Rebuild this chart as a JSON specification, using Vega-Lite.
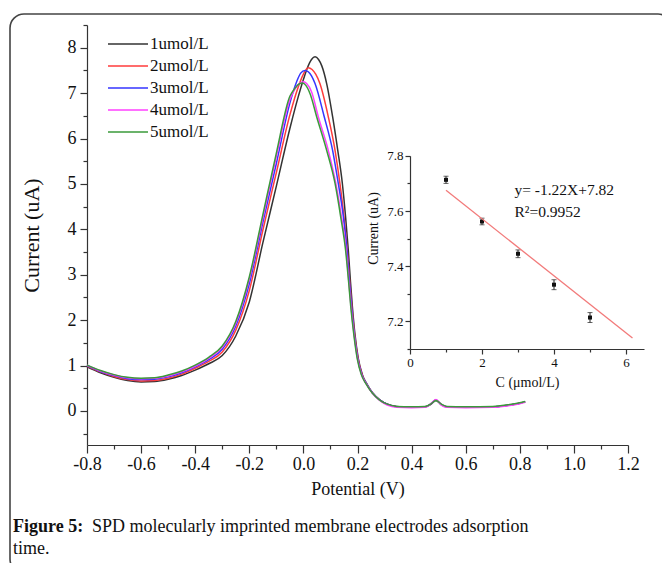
{
  "$schema": "https://vega.github.io/schema/vega-lite/v6.json",
  "width": 662,
  "height": 559,
  "autosize": {"type": "none"},
  "padding": {"left": 10, "top": 14, "right": -10, "bottom": -10},
  "background": "white",
  "config": {
    "view": {"stroke": "#444444", "strokeWidth": 1.6, "cornerRadius": 14},
    "font": "Liberation Serif",
    "axis": {
      "labelFont": "Liberation Serif",
      "titleFont": "Liberation Serif",
      "domainColor": "#333333",
      "tickColor": "#333333",
      "labelColor": "#111111",
      "titleColor": "#111111",
      "titleFontWeight": "normal",
      "grid": false,
      "domainWidth": 1.2,
      "tickWidth": 1.2,
      "labelFlush": false,
      "labelOverlap": false
    },
    "legend": {
      "orient": "none",
      "legendX": 97,
      "legendY": 19,
      "padding": 0,
      "symbolType": "stroke",
      "symbolSize": 1600,
      "symbolStrokeWidth": 1.5,
      "labelFont": "Liberation Serif",
      "labelFontSize": 17,
      "labelColor": "#111111",
      "labelOffset": 1,
      "clipHeight": 22,
      "rowPadding": 0
    }
  },
  "datasets": {
    "curves": [
      {"E": -0.80, "I": 0.97, "conc": "1umol/L"}, {"E": -0.75, "I": 0.84, "conc": "1umol/L"}, {"E": -0.70, "I": 0.74, "conc": "1umol/L"}, {"E": -0.65, "I": 0.67, "conc": "1umol/L"}, {"E": -0.60, "I": 0.64, "conc": "1umol/L"}, {"E": -0.55, "I": 0.65, "conc": "1umol/L"}, {"E": -0.50, "I": 0.70, "conc": "1umol/L"}, {"E": -0.45, "I": 0.78, "conc": "1umol/L"}, {"E": -0.40, "I": 0.90, "conc": "1umol/L"}, {"E": -0.35, "I": 1.04, "conc": "1umol/L"}, {"E": -0.30, "I": 1.22, "conc": "1umol/L"}, {"E": -0.25, "I": 1.65, "conc": "1umol/L"}, {"E": -0.20, "I": 2.40, "conc": "1umol/L"}, {"E": -0.15, "I": 3.70, "conc": "1umol/L"}, {"E": -0.10, "I": 4.95, "conc": "1umol/L"}, {"E": -0.05, "I": 6.22, "conc": "1umol/L"}, {"E": -0.02, "I": 6.90, "conc": "1umol/L"}, {"E": 0.00, "I": 7.30, "conc": "1umol/L"}, {"E": 0.015, "I": 7.56, "conc": "1umol/L"}, {"E": 0.03, "I": 7.74, "conc": "1umol/L"}, {"E": 0.043, "I": 7.80, "conc": "1umol/L"}, {"E": 0.056, "I": 7.74, "conc": "1umol/L"}, {"E": 0.068, "I": 7.60, "conc": "1umol/L"}, {"E": 0.086, "I": 7.21, "conc": "1umol/L"}, {"E": 0.108, "I": 6.48, "conc": "1umol/L"}, {"E": 0.127, "I": 5.74, "conc": "1umol/L"}, {"E": 0.144, "I": 5.01, "conc": "1umol/L"}, {"E": 0.156, "I": 4.27, "conc": "1umol/L"}, {"E": 0.166, "I": 3.54, "conc": "1umol/L"}, {"E": 0.174, "I": 2.85, "conc": "1umol/L"}, {"E": 0.181, "I": 2.30, "conc": "1umol/L"}, {"E": 0.19, "I": 1.72, "conc": "1umol/L"}, {"E": 0.203, "I": 1.15, "conc": "1umol/L"}, {"E": 0.218, "I": 0.80, "conc": "1umol/L"}, {"E": 0.234, "I": 0.60, "conc": "1umol/L"}, {"E": 0.255, "I": 0.40, "conc": "1umol/L"}, {"E": 0.283, "I": 0.24, "conc": "1umol/L"}, {"E": 0.31, "I": 0.15, "conc": "1umol/L"}, {"E": 0.345, "I": 0.10, "conc": "1umol/L"}, {"E": 0.40, "I": 0.08, "conc": "1umol/L"}, {"E": 0.45, "I": 0.09, "conc": "1umol/L"}, {"E": 0.47, "I": 0.14, "conc": "1umol/L"}, {"E": 0.49, "I": 0.23, "conc": "1umol/L"}, {"E": 0.51, "I": 0.14, "conc": "1umol/L"}, {"E": 0.53, "I": 0.09, "conc": "1umol/L"}, {"E": 0.60, "I": 0.08, "conc": "1umol/L"}, {"E": 0.70, "I": 0.09, "conc": "1umol/L"}, {"E": 0.75, "I": 0.12, "conc": "1umol/L"}, {"E": 0.80, "I": 0.17, "conc": "1umol/L"}, {"E": 0.82, "I": 0.20, "conc": "1umol/L"},

      {"E": -0.80, "I": 0.99, "conc": "2umol/L"}, {"E": -0.75, "I": 0.86, "conc": "2umol/L"}, {"E": -0.70, "I": 0.76, "conc": "2umol/L"}, {"E": -0.65, "I": 0.69, "conc": "2umol/L"}, {"E": -0.60, "I": 0.66, "conc": "2umol/L"}, {"E": -0.55, "I": 0.67, "conc": "2umol/L"}, {"E": -0.50, "I": 0.72, "conc": "2umol/L"}, {"E": -0.45, "I": 0.81, "conc": "2umol/L"}, {"E": -0.40, "I": 0.94, "conc": "2umol/L"}, {"E": -0.35, "I": 1.09, "conc": "2umol/L"}, {"E": -0.30, "I": 1.30, "conc": "2umol/L"}, {"E": -0.25, "I": 1.78, "conc": "2umol/L"}, {"E": -0.20, "I": 2.65, "conc": "2umol/L"}, {"E": -0.15, "I": 3.98, "conc": "2umol/L"}, {"E": -0.10, "I": 5.25, "conc": "2umol/L"}, {"E": -0.05, "I": 6.52, "conc": "2umol/L"}, {"E": -0.02, "I": 7.12, "conc": "2umol/L"}, {"E": 0.00, "I": 7.42, "conc": "2umol/L"}, {"E": 0.018, "I": 7.56, "conc": "2umol/L"}, {"E": 0.032, "I": 7.52, "conc": "2umol/L"}, {"E": 0.046, "I": 7.41, "conc": "2umol/L"}, {"E": 0.061, "I": 7.21, "conc": "2umol/L"}, {"E": 0.092, "I": 6.48, "conc": "2umol/L"}, {"E": 0.117, "I": 5.74, "conc": "2umol/L"}, {"E": 0.135, "I": 5.01, "conc": "2umol/L"}, {"E": 0.15, "I": 4.27, "conc": "2umol/L"}, {"E": 0.162, "I": 3.54, "conc": "2umol/L"}, {"E": 0.171, "I": 2.85, "conc": "2umol/L"}, {"E": 0.179, "I": 2.30, "conc": "2umol/L"}, {"E": 0.189, "I": 1.70, "conc": "2umol/L"}, {"E": 0.202, "I": 1.15, "conc": "2umol/L"}, {"E": 0.217, "I": 0.80, "conc": "2umol/L"}, {"E": 0.233, "I": 0.60, "conc": "2umol/L"}, {"E": 0.255, "I": 0.40, "conc": "2umol/L"}, {"E": 0.283, "I": 0.24, "conc": "2umol/L"}, {"E": 0.31, "I": 0.15, "conc": "2umol/L"}, {"E": 0.345, "I": 0.09, "conc": "2umol/L"}, {"E": 0.40, "I": 0.08, "conc": "2umol/L"}, {"E": 0.45, "I": 0.09, "conc": "2umol/L"}, {"E": 0.47, "I": 0.15, "conc": "2umol/L"}, {"E": 0.49, "I": 0.24, "conc": "2umol/L"}, {"E": 0.51, "I": 0.14, "conc": "2umol/L"}, {"E": 0.53, "I": 0.09, "conc": "2umol/L"}, {"E": 0.60, "I": 0.08, "conc": "2umol/L"}, {"E": 0.70, "I": 0.09, "conc": "2umol/L"}, {"E": 0.75, "I": 0.12, "conc": "2umol/L"}, {"E": 0.80, "I": 0.17, "conc": "2umol/L"}, {"E": 0.82, "I": 0.20, "conc": "2umol/L"},

      {"E": -0.80, "I": 1.00, "conc": "3umol/L"}, {"E": -0.75, "I": 0.87, "conc": "3umol/L"}, {"E": -0.70, "I": 0.78, "conc": "3umol/L"}, {"E": -0.65, "I": 0.71, "conc": "3umol/L"}, {"E": -0.60, "I": 0.69, "conc": "3umol/L"}, {"E": -0.55, "I": 0.70, "conc": "3umol/L"}, {"E": -0.50, "I": 0.75, "conc": "3umol/L"}, {"E": -0.45, "I": 0.84, "conc": "3umol/L"}, {"E": -0.40, "I": 0.97, "conc": "3umol/L"}, {"E": -0.35, "I": 1.13, "conc": "3umol/L"}, {"E": -0.30, "I": 1.36, "conc": "3umol/L"}, {"E": -0.25, "I": 1.87, "conc": "3umol/L"}, {"E": -0.20, "I": 2.80, "conc": "3umol/L"}, {"E": -0.15, "I": 4.15, "conc": "3umol/L"}, {"E": -0.10, "I": 5.45, "conc": "3umol/L"}, {"E": -0.05, "I": 6.78, "conc": "3umol/L"}, {"E": -0.025, "I": 7.25, "conc": "3umol/L"}, {"E": -0.01, "I": 7.44, "conc": "3umol/L"}, {"E": 0.006, "I": 7.50, "conc": "3umol/L"}, {"E": 0.018, "I": 7.47, "conc": "3umol/L"}, {"E": 0.03, "I": 7.38, "conc": "3umol/L"}, {"E": 0.043, "I": 7.21, "conc": "3umol/L"}, {"E": 0.077, "I": 6.48, "conc": "3umol/L"}, {"E": 0.108, "I": 5.74, "conc": "3umol/L"}, {"E": 0.129, "I": 5.01, "conc": "3umol/L"}, {"E": 0.148, "I": 4.27, "conc": "3umol/L"}, {"E": 0.161, "I": 3.54, "conc": "3umol/L"}, {"E": 0.170, "I": 2.85, "conc": "3umol/L"}, {"E": 0.178, "I": 2.30, "conc": "3umol/L"}, {"E": 0.188, "I": 1.70, "conc": "3umol/L"}, {"E": 0.201, "I": 1.15, "conc": "3umol/L"}, {"E": 0.216, "I": 0.80, "conc": "3umol/L"}, {"E": 0.233, "I": 0.60, "conc": "3umol/L"}, {"E": 0.255, "I": 0.40, "conc": "3umol/L"}, {"E": 0.283, "I": 0.24, "conc": "3umol/L"}, {"E": 0.31, "I": 0.15, "conc": "3umol/L"}, {"E": 0.345, "I": 0.09, "conc": "3umol/L"}, {"E": 0.40, "I": 0.08, "conc": "3umol/L"}, {"E": 0.45, "I": 0.09, "conc": "3umol/L"}, {"E": 0.47, "I": 0.15, "conc": "3umol/L"}, {"E": 0.49, "I": 0.24, "conc": "3umol/L"}, {"E": 0.51, "I": 0.14, "conc": "3umol/L"}, {"E": 0.53, "I": 0.09, "conc": "3umol/L"}, {"E": 0.60, "I": 0.08, "conc": "3umol/L"}, {"E": 0.70, "I": 0.09, "conc": "3umol/L"}, {"E": 0.75, "I": 0.12, "conc": "3umol/L"}, {"E": 0.80, "I": 0.17, "conc": "3umol/L"}, {"E": 0.82, "I": 0.20, "conc": "3umol/L"},

      {"E": -0.80, "I": 1.01, "conc": "4umol/L"}, {"E": -0.75, "I": 0.88, "conc": "4umol/L"}, {"E": -0.70, "I": 0.79, "conc": "4umol/L"}, {"E": -0.65, "I": 0.73, "conc": "4umol/L"}, {"E": -0.60, "I": 0.71, "conc": "4umol/L"}, {"E": -0.55, "I": 0.72, "conc": "4umol/L"}, {"E": -0.50, "I": 0.77, "conc": "4umol/L"}, {"E": -0.45, "I": 0.86, "conc": "4umol/L"}, {"E": -0.40, "I": 0.99, "conc": "4umol/L"}, {"E": -0.35, "I": 1.16, "conc": "4umol/L"}, {"E": -0.30, "I": 1.40, "conc": "4umol/L"}, {"E": -0.25, "I": 1.93, "conc": "4umol/L"}, {"E": -0.20, "I": 2.90, "conc": "4umol/L"}, {"E": -0.15, "I": 4.25, "conc": "4umol/L"}, {"E": -0.10, "I": 5.60, "conc": "4umol/L"}, {"E": -0.05, "I": 6.86, "conc": "4umol/L"}, {"E": -0.03, "I": 7.10, "conc": "4umol/L"}, {"E": -0.013, "I": 7.22, "conc": "4umol/L"}, {"E": 0.00, "I": 7.25, "conc": "4umol/L"}, {"E": 0.012, "I": 7.21, "conc": "4umol/L"}, {"E": 0.03, "I": 7.03, "conc": "4umol/L"}, {"E": 0.055, "I": 6.48, "conc": "4umol/L"}, {"E": 0.092, "I": 5.74, "conc": "4umol/L"}, {"E": 0.12, "I": 5.01, "conc": "4umol/L"}, {"E": 0.141, "I": 4.27, "conc": "4umol/L"}, {"E": 0.158, "I": 3.54, "conc": "4umol/L"}, {"E": 0.168, "I": 2.85, "conc": "4umol/L"}, {"E": 0.176, "I": 2.30, "conc": "4umol/L"}, {"E": 0.187, "I": 1.70, "conc": "4umol/L"}, {"E": 0.200, "I": 1.15, "conc": "4umol/L"}, {"E": 0.215, "I": 0.80, "conc": "4umol/L"}, {"E": 0.232, "I": 0.60, "conc": "4umol/L"}, {"E": 0.254, "I": 0.40, "conc": "4umol/L"}, {"E": 0.282, "I": 0.23, "conc": "4umol/L"}, {"E": 0.31, "I": 0.13, "conc": "4umol/L"}, {"E": 0.345, "I": 0.08, "conc": "4umol/L"}, {"E": 0.40, "I": 0.07, "conc": "4umol/L"}, {"E": 0.45, "I": 0.08, "conc": "4umol/L"}, {"E": 0.47, "I": 0.15, "conc": "4umol/L"}, {"E": 0.49, "I": 0.25, "conc": "4umol/L"}, {"E": 0.51, "I": 0.13, "conc": "4umol/L"}, {"E": 0.53, "I": 0.08, "conc": "4umol/L"}, {"E": 0.60, "I": 0.07, "conc": "4umol/L"}, {"E": 0.70, "I": 0.08, "conc": "4umol/L"}, {"E": 0.75, "I": 0.11, "conc": "4umol/L"}, {"E": 0.80, "I": 0.16, "conc": "4umol/L"}, {"E": 0.82, "I": 0.19, "conc": "4umol/L"},

      {"E": -0.80, "I": 1.01, "conc": "5umol/L"}, {"E": -0.75, "I": 0.89, "conc": "5umol/L"}, {"E": -0.70, "I": 0.80, "conc": "5umol/L"}, {"E": -0.65, "I": 0.74, "conc": "5umol/L"}, {"E": -0.60, "I": 0.72, "conc": "5umol/L"}, {"E": -0.55, "I": 0.73, "conc": "5umol/L"}, {"E": -0.50, "I": 0.79, "conc": "5umol/L"}, {"E": -0.45, "I": 0.88, "conc": "5umol/L"}, {"E": -0.40, "I": 1.01, "conc": "5umol/L"}, {"E": -0.35, "I": 1.18, "conc": "5umol/L"}, {"E": -0.30, "I": 1.43, "conc": "5umol/L"}, {"E": -0.25, "I": 1.97, "conc": "5umol/L"}, {"E": -0.20, "I": 2.95, "conc": "5umol/L"}, {"E": -0.15, "I": 4.32, "conc": "5umol/L"}, {"E": -0.10, "I": 5.68, "conc": "5umol/L"}, {"E": -0.05, "I": 6.93, "conc": "5umol/L"}, {"E": -0.032, "I": 7.10, "conc": "5umol/L"}, {"E": -0.016, "I": 7.20, "conc": "5umol/L"}, {"E": -0.003, "I": 7.22, "conc": "5umol/L"}, {"E": 0.009, "I": 7.17, "conc": "5umol/L"}, {"E": 0.025, "I": 6.98, "conc": "5umol/L"}, {"E": 0.049, "I": 6.48, "conc": "5umol/L"}, {"E": 0.086, "I": 5.74, "conc": "5umol/L"}, {"E": 0.117, "I": 5.01, "conc": "5umol/L"}, {"E": 0.138, "I": 4.27, "conc": "5umol/L"}, {"E": 0.156, "I": 3.54, "conc": "5umol/L"}, {"E": 0.167, "I": 2.85, "conc": "5umol/L"}, {"E": 0.175, "I": 2.30, "conc": "5umol/L"}, {"E": 0.186, "I": 1.70, "conc": "5umol/L"}, {"E": 0.199, "I": 1.15, "conc": "5umol/L"}, {"E": 0.214, "I": 0.80, "conc": "5umol/L"}, {"E": 0.231, "I": 0.60, "conc": "5umol/L"}, {"E": 0.254, "I": 0.40, "conc": "5umol/L"}, {"E": 0.282, "I": 0.24, "conc": "5umol/L"}, {"E": 0.31, "I": 0.15, "conc": "5umol/L"}, {"E": 0.345, "I": 0.10, "conc": "5umol/L"}, {"E": 0.40, "I": 0.09, "conc": "5umol/L"}, {"E": 0.45, "I": 0.10, "conc": "5umol/L"}, {"E": 0.47, "I": 0.15, "conc": "5umol/L"}, {"E": 0.49, "I": 0.23, "conc": "5umol/L"}, {"E": 0.51, "I": 0.15, "conc": "5umol/L"}, {"E": 0.53, "I": 0.10, "conc": "5umol/L"}, {"E": 0.60, "I": 0.09, "conc": "5umol/L"}, {"E": 0.70, "I": 0.10, "conc": "5umol/L"}, {"E": 0.75, "I": 0.13, "conc": "5umol/L"}, {"E": 0.80, "I": 0.18, "conc": "5umol/L"}, {"E": 0.82, "I": 0.21, "conc": "5umol/L"}
    ],
    "inset": [
      {"c": 1, "I": 7.713, "lo": 7.700, "hi": 7.726},
      {"c": 2, "I": 7.562, "lo": 7.550, "hi": 7.574},
      {"c": 3, "I": 7.445, "lo": 7.431, "hi": 7.459},
      {"c": 4, "I": 7.333, "lo": 7.315, "hi": 7.351},
      {"c": 5, "I": 7.214, "lo": 7.196, "hi": 7.232}
    ],
    "fit": [
      {"c": 1, "fit": 7.675},
      {"c": 6.18, "fit": 7.14}
    ],
    "eq": [
      {"eq": ["y= -1.22X+7.82", "R²=0.9952"]}
    ],
    "cap1": [{"t": "Figure 5:"}],
    "cap2": [{"t": "SPD molecularly imprinted membrane electrodes adsorption"}],
    "cap3": [{"t": "time."}]
  },
  "layer": [
    {
      "data": {"name": "curves"},
      "mark": {"type": "line", "interpolate": "monotone", "strokeWidth": 1.5},
      "encoding": {
        "x": {
          "field": "E", "type": "quantitative",
          "scale": {"domain": [-0.8, 1.2], "range": [77, 618], "nice": false, "zero": false},
          "axis": {
            "orient": "bottom", "offset": -128,
            "title": "Potential (V)", "titleFontSize": 18, "titlePadding": 7,
            "values": [-0.8, -0.7, -0.6, -0.5, -0.4, -0.3, -0.2, -0.1, 0, 0.1, 0.2, 0.3, 0.4, 0.5, 0.6, 0.7, 0.8, 0.9, 1.0, 1.1, 1.2],
            "labelExpr": "round(datum.value*10) % 2 !== 0 ? '' : replace(format(datum.value, '.1f'), '−', '-')",
            "labelFontSize": 18, "labelPadding": 2,
            "tickSize": {"condition": {"test": "round(datum.value*10) % 2 !== 0", "value": 4}, "value": 8}
          }
        },
        "y": {
          "field": "I", "type": "quantitative",
          "scale": {"domain": [-0.75, 8.5], "range": [431, 11], "nice": false, "zero": false},
          "axis": {
            "orient": "left", "offset": -77,
            "title": "Current (uA)", "titleFontSize": 22, "titlePadding": 24,
            "values": [-0.5, 0, 0.5, 1, 1.5, 2, 2.5, 3, 3.5, 4, 4.5, 5, 5.5, 6, 6.5, 7, 7.5, 8, 8.5],
            "labelExpr": "datum.value % 1 !== 0 ? '' : format(datum.value, 'd')",
            "labelFontSize": 18, "labelPadding": 4,
            "tickSize": {"condition": {"test": "datum.value % 1 !== 0", "value": 4}, "value": 7}
          }
        },
        "color": {
          "field": "conc", "type": "nominal",
          "scale": {"domain": ["1umol/L", "2umol/L", "3umol/L", "4umol/L", "5umol/L"], "range": ["#333333", "#ff3b3b", "#3535ff", "#ff40ff", "#3a9a3a"]},
          "legend": {"title": null}
        }
      }
    },
    {
      "layer": [
        {
          "data": {"name": "inset"},
          "mark": {"type": "rule", "color": "#222222", "strokeWidth": 1},
          "encoding": {
            "x": {
              "field": "c", "type": "quantitative",
              "scale": {"domain": [0, 6.5], "range": [400, 634], "nice": false, "zero": false},
              "axis": {
                "orient": "bottom", "offset": -224,
                "title": "C (μmol/L)", "titleFontSize": 14, "titlePadding": 6,
                "values": [0, 1, 2, 3, 4, 5, 6],
                "labelExpr": "datum.value % 2 !== 0 ? '' : format(datum.value, 'd')",
                "labelFontSize": 13, "labelPadding": 2,
                "tickSize": {"condition": {"test": "datum.value % 2 !== 0", "value": 3}, "value": 5}
              }
            },
            "y": {
              "field": "lo", "type": "quantitative",
              "scale": {"domain": [7.1, 7.8], "range": [335, 141.8], "nice": false, "zero": false},
              "axis": {
                "orient": "left", "offset": -400,
                "title": "Current (uA)", "titleFontSize": 14, "titlePadding": 6, "titleY": 214,
                "values": [7.1, 7.2, 7.3, 7.4, 7.5, 7.6, 7.7, 7.8],
                "labelExpr": "round(datum.value*10) % 2 !== 0 ? '' : format(datum.value, '.1f')",
                "labelFontSize": 13, "labelPadding": 2,
                "tickSize": {"condition": {"test": "round(datum.value*10) % 2 !== 0", "value": 3}, "value": 5}
              }
            },
            "y2": {"field": "hi"}
          }
        },
        {
          "data": {"name": "inset"},
          "mark": {"type": "tick", "orient": "horizontal", "size": 5, "thickness": 1, "color": "#222222"},
          "encoding": {"x": {"field": "c", "type": "quantitative"}, "y": {"field": "lo", "type": "quantitative"}}
        },
        {
          "data": {"name": "inset"},
          "mark": {"type": "tick", "orient": "horizontal", "size": 5, "thickness": 1, "color": "#222222"},
          "encoding": {"x": {"field": "c", "type": "quantitative"}, "y": {"field": "hi", "type": "quantitative"}}
        },
        {
          "data": {"name": "inset"},
          "mark": {"type": "square", "size": 16, "filled": true, "color": "#111111", "opacity": 1},
          "encoding": {"x": {"field": "c", "type": "quantitative"}, "y": {"field": "I", "type": "quantitative"}}
        },
        {
          "data": {"name": "fit"},
          "mark": {"type": "line", "color": "#f27a7a", "strokeWidth": 1.3},
          "encoding": {"x": {"field": "c", "type": "quantitative"}, "y": {"field": "fit", "type": "quantitative"}}
        },
        {
          "data": {"name": "eq"},
          "mark": {"type": "text", "align": "left", "baseline": "middle", "fontSize": 15.5, "lineHeight": 21.7, "color": "#111111", "font": "Liberation Serif"},
          "encoding": {"x": {"datum": 2.9}, "y": {"datum": 7.676}, "text": {"field": "eq"}}
        }
      ]
    },
    {
      "layer": [
        {
          "data": {"name": "cap1"},
          "mark": {"type": "text", "align": "left", "baseline": "middle", "fontSize": 18, "fontWeight": "bold", "color": "#111111", "font": "Liberation Serif"},
          "encoding": {
            "x": {"datum": -1.0736, "scale": {"domain": [-0.8, 1.2], "range": [77, 618], "nice": false, "zero": false}, "axis": null},
            "y": {"datum": -2.56, "scale": {"domain": [-0.75, 8.5], "range": [431, 11], "nice": false, "zero": false}, "axis": null},
            "text": {"field": "t"}
          }
        },
        {
          "data": {"name": "cap2"},
          "mark": {"type": "text", "align": "left", "baseline": "middle", "fontSize": 18, "color": "#111111", "font": "Liberation Serif"},
          "encoding": {"x": {"datum": -0.7815, "axis": null}, "y": {"datum": -2.56, "axis": null}, "text": {"field": "t"}}
        },
        {
          "data": {"name": "cap3"},
          "mark": {"type": "text", "align": "left", "baseline": "middle", "fontSize": 18, "color": "#111111", "font": "Liberation Serif"},
          "encoding": {"x": {"datum": -1.0736, "axis": null}, "y": {"datum": -3.04, "axis": null}, "text": {"field": "t"}}
        }
      ]
    }
  ],
  "resolve": {
    "scale": {"x": "independent", "y": "independent"},
    "axis": {"x": "independent", "y": "independent"}
  }
}
